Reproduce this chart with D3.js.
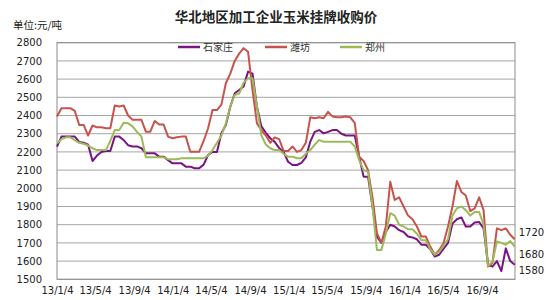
<!DOCTYPE html>
<html>
<head>
<meta charset="utf-8">
<script src="https://cdn.jsdelivr.net/npm/d3@7"></script>
<style>
  body { margin: 0; background: #fff; }
  text { font-family: "DejaVu Sans", sans-serif; }
  .cjk { font-family: "Noto Sans CJK SC", sans-serif; }
</style>
</head>
<body>
<svg class="chart"></svg>
<script>
// biweekly readings, yuan per ton
var dates = [
  "2013-01-04","2013-01-18","2013-02-01","2013-02-15","2013-03-01","2013-03-15","2013-03-29","2013-04-12",
  "2013-04-26","2013-05-10","2013-05-24","2013-06-07","2013-06-21","2013-07-05","2013-07-19","2013-08-02",
  "2013-08-16","2013-08-30","2013-09-13","2013-09-27","2013-10-11","2013-10-25","2013-11-08","2013-11-22",
  "2013-12-06","2013-12-20","2014-01-03","2014-01-17","2014-01-31","2014-02-14","2014-02-28","2014-03-14",
  "2014-03-28","2014-04-11","2014-04-25","2014-05-09","2014-05-23","2014-06-06","2014-06-20","2014-07-04",
  "2014-07-18","2014-08-01","2014-08-15","2014-08-29","2014-09-12","2014-09-26","2014-10-10","2014-10-24",
  "2014-11-07","2014-11-21","2014-12-05","2014-12-19","2015-01-02","2015-01-16","2015-01-30","2015-02-13",
  "2015-02-27","2015-03-13","2015-03-27","2015-04-10","2015-04-24","2015-05-08","2015-05-22","2015-06-05",
  "2015-06-19","2015-07-03","2015-07-17","2015-07-31","2015-08-14","2015-08-28","2015-09-11","2015-09-25",
  "2015-10-09","2015-10-23","2015-11-06","2015-11-20","2015-12-04","2015-12-18","2016-01-01","2016-01-15",
  "2016-01-29","2016-02-12","2016-02-26","2016-03-11","2016-03-25","2016-04-08","2016-04-22","2016-05-06",
  "2016-05-20","2016-06-03","2016-06-17","2016-07-01","2016-07-15","2016-07-29","2016-08-12","2016-08-26",
  "2016-09-09","2016-09-23","2016-10-07","2016-10-21","2016-11-04","2016-11-18","2016-12-02","2016-12-16"
];

var shijiazhuang = [
  2229,2284,2284,2284,2284,2255,2250,2240,2150,2180,2200,2205,2205,2284,2284,2265,
  2237,2230,2230,2220,2192,2192,2192,2174,2174,2155,2137,2137,2137,2119,2119,2110,
  2110,2130,2183,2200,2200,2302,2348,2448,2522,2540,2560,2641,2630,2448,2340,2305,
  2275,2255,2221,2200,2146,2128,2128,2140,2170,2256,2310,2320,2302,2310,2320,2320,
  2300,2290,2290,2290,2174,2064,2064,1900,1734,1700,1760,1800,1790,1770,1760,1735,
  1730,1720,1690,1690,1665,1625,1635,1668,1700,1806,1830,1840,1790,1790,1812,1815,
  1780,1580,1570,1600,1545,1670,1600,1580
];

var weifang = [
  2394,2440,2440,2440,2425,2348,2348,2290,2345,2335,2335,2330,2330,2455,2450,2455,
  2400,2376,2376,2376,2311,2311,2370,2350,2350,2284,2275,2280,2284,2284,2201,2201,
  2201,2260,2330,2430,2430,2460,2577,2630,2700,2740,2770,2750,2540,2357,2320,2290,
  2250,2280,2270,2205,2205,2230,2200,2210,2250,2390,2385,2390,2385,2420,2395,2390,
  2390,2395,2390,2360,2174,2150,2100,1950,1754,1700,1790,2036,1936,1950,1900,1850,
  1830,1790,1735,1735,1680,1635,1660,1700,1790,1900,2040,1980,1960,1875,1890,1950,
  1880,1570,1590,1780,1770,1780,1745,1720
];

var zhengzhou = [
  2247,2270,2280,2280,2265,2250,2245,2235,2220,2210,2210,2210,2260,2320,2320,2360,
  2357,2340,2310,2285,2170,2170,2170,2170,2170,2160,2160,2160,2165,2165,2165,2165,
  2165,2165,2180,2210,2250,2290,2357,2450,2513,2520,2580,2604,2604,2450,2290,2240,
  2220,2210,2210,2190,2174,2174,2165,2165,2190,2210,2240,2265,2256,2256,2256,2256,
  2256,2256,2256,2230,2155,2100,2090,1900,1661,1661,1750,1863,1850,1800,1790,1775,
  1775,1750,1715,1715,1665,1635,1650,1685,1720,1850,1890,1900,1880,1850,1870,1870,
  1800,1575,1595,1708,1700,1690,1710,1680
];

var seriesNames = ["石家庄", "潍坊", "郑州"];
var seriesColors = ["#7a1482", "#c8534c", "#9bbb59"];
var endLabelShift = [6, -7, 8];

var tickLabels = ["13/1/4","13/5/4","13/9/4","14/1/4","14/5/4","14/9/4",
                  "15/1/4","15/5/4","15/9/4","16/1/4","16/5/4","16/9/4"];
var yTicks = [1500,1600,1700,1800,1900,2000,2100,2200,2300,2400,2500,2600,2700,2800];

function drawChart() {
    var width = 550, height = 300;
    var plotLeft = 57, plotRight = 515, plotTop = 42.7, plotBottom = 279.3;

    var parse = d3.timeParse("%Y-%m-%d");
    var parseTick = d3.timeParse("%y/%m/%d");
    var tickDates = tickLabels.map(function(s) {
        var p = s.split("/");
        return parseTick(p[0] + "/" + ("0" + p[1]).slice(-2) + "/" + ("0" + p[2]).slice(-2));
    });

    var svg = d3.select(".chart")
        .attr("width", width)
        .attr("height", height);

    var x = d3.scaleTime()
        .domain([parse("2013-01-04"), parse("2016-12-17")])
        .range([plotLeft, plotRight]);

    var y = d3.scaleLinear()
        .domain([1500, 2800])
        .range([plotBottom, plotTop]);

    // grid lines
    svg.append("g")
        .selectAll("line")
        .data(yTicks)
        .enter().append("line")
        .attr("x1", plotLeft).attr("x2", plotRight)
        .attr("y1", function(d) { return y(d); })
        .attr("y2", function(d) { return y(d); })
        .attr("stroke", "#a6a6a6")
        .attr("stroke-width", 1);

    // plot border
    svg.append("rect")
        .attr("x", plotLeft).attr("y", plotTop)
        .attr("width", plotRight - plotLeft).attr("height", plotBottom - plotTop)
        .attr("fill", "none")
        .attr("stroke", "#8c8c8c");

    // y axis
    var yAxis = svg.append("g")
        .attr("transform", "translate(" + plotLeft + ",0)")
        .call(d3.axisLeft(y).tickValues(yTicks).tickSize(0).tickPadding(15).tickFormat(d3.format("d")));
    yAxis.select(".domain").remove();
    yAxis.selectAll("text").attr("font-size", 10).attr("fill", "#222").style("font-family", "DejaVu Sans");

    // x axis
    var xAxis = svg.append("g")
        .attr("transform", "translate(0," + plotBottom + ")")
        .call(d3.axisBottom(x).tickValues(tickDates).tickSize(0).tickPadding(8)
            .tickFormat(function(d, i) { return tickLabels[i]; }));
    xAxis.select(".domain").remove();
    xAxis.selectAll("text").attr("font-size", 10).attr("fill", "#222").style("font-family", "DejaVu Sans");

    // lines
    var series = [shijiazhuang, weifang, zhengzhou];
    var line = d3.line()
        .x(function(d, i) { return x(parse(dates[i])); })
        .y(function(d) { return y(d); });

    series.forEach(function(vals, k) {
        svg.append("path")
            .datum(vals)
            .attr("d", line)
            .attr("fill", "none")
            .attr("stroke", seriesColors[k])
            .attr("stroke-width", 2)
            .attr("stroke-linejoin", "round");
    });

    // end values
    series.forEach(function(vals, k) {
        var n = vals.length - 1;
        svg.append("text")
            .attr("x", x(parse(dates[n])) + 4)
            .attr("y", y(vals[n]) + endLabelShift[k])
            .attr("dy", "0.35em")
            .attr("font-size", 10)
            .attr("fill", "#222")
            .text(vals[n]);
    });

    // legend
    var legendX = [178, 265, 340];
    var legend = svg.append("g").attr("class", "legend");
    seriesNames.forEach(function(name, k) {
        legend.append("line")
            .attr("x1", legendX[k]).attr("x2", legendX[k] + 22)
            .attr("y1", 47).attr("y2", 47)
            .attr("stroke", seriesColors[k])
            .attr("stroke-width", 2.5);
        legend.append("text")
            .attr("class", "cjk")
            .attr("x", legendX[k] + 25)
            .attr("y", 47)
            .attr("dy", "0.35em")
            .attr("font-size", 10)
            .attr("fill", "#333")
            .text(name);
    });

    // titles
    svg.append("text")
        .attr("class", "cjk")
        .attr("x", 276).attr("y", 17)
        .attr("dy", "0.35em")
        .attr("text-anchor", "middle")
        .attr("font-size", 13.5)
        .attr("font-weight", "bold")
        .attr("fill", "#222")
        .text("华北地区加工企业玉米挂牌收购价");

    svg.append("text")
        .attr("class", "cjk")
        .attr("x", 13).attr("y", 25)
        .attr("dy", "0.35em")
        .attr("font-size", 10.5)
        .attr("fill", "#222")
        .text("单位:元/吨");
}

drawChart();
</script>
</body>
</html>
